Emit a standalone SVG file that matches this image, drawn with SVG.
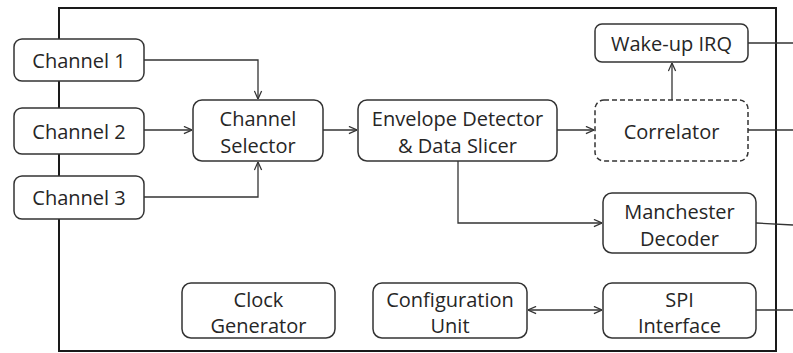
<svg xmlns="http://www.w3.org/2000/svg" width="793" height="353" viewBox="0 0 793 353">
  <style>
    .box { fill: #ffffff; stroke: #333333; stroke-width: 1.5; }
    .dash { stroke-dasharray: 5 3; }
    .frame { fill: none; stroke: #1a1a1a; stroke-width: 2; }
    .wire { fill: none; stroke: #333333; stroke-width: 1.3; }
    text { font-family: "Open Sans", "Liberation Sans", sans-serif; font-size: 20px; fill: #262626; text-anchor: middle; }
  </style>
  <defs>
    <marker id="arr" viewBox="0 0 10 10" refX="10" refY="5" markerWidth="9" markerHeight="9" markerUnits="userSpaceOnUse" orient="auto-start-reverse">
      <path d="M1,1 L10,5 L1,9" fill="none" stroke="#333333" stroke-width="1.4"/>
    </marker>
  </defs>

  <!-- chip outline; its left edge doubles as the channel bus -->
  <rect class="frame" x="59" y="8" width="717" height="343"/>

  <g id="connectors">
    <path class="wire" d="M144,60 H258 V99" marker-end="url(#arr)"/>
    <path class="wire" d="M144,130 H192" marker-end="url(#arr)"/>
    <path class="wire" d="M144,197 H258 V162" marker-end="url(#arr)"/>
    <path class="wire" d="M323,130 H357" marker-end="url(#arr)"/>
    <path class="wire" d="M557,130 H594" marker-end="url(#arr)"/>
    <path class="wire" d="M672,100 V63" marker-end="url(#arr)"/>
    <path class="wire" d="M458,161 V223 H602" marker-end="url(#arr)"/>
    <path class="wire" d="M528,310 H602" marker-start="url(#arr)" marker-end="url(#arr)"/>
    <path class="wire" d="M748,43 H793"/>
    <path class="wire" d="M748,130 H793"/>
    <path class="wire" d="M756,223 L793,225"/>
    <path class="wire" d="M756,310 H793"/>
  </g>

  <g id="ch1">
    <rect class="box" x="14" y="39" width="130" height="42" rx="8"/>
    <text x="79" y="67.5">Channel 1</text>
  </g>
  <g id="ch2">
    <rect class="box" x="14" y="108" width="130" height="46" rx="8"/>
    <text x="79" y="138.5">Channel 2</text>
  </g>
  <g id="ch3">
    <rect class="box" x="14" y="176" width="130" height="43" rx="8"/>
    <text x="79" y="204.5">Channel 3</text>
  </g>
  <g id="selector">
    <rect class="box" x="193" y="100" width="130" height="61" rx="9"/>
    <text x="258" y="125.5">Channel</text>
    <text x="258" y="152.5">Selector</text>
  </g>
  <g id="envelope">
    <rect class="box" x="358" y="100" width="199" height="61" rx="9"/>
    <text x="457.5" y="125.5">Envelope Detector</text>
    <text x="457.5" y="152.5">&amp; Data Slicer</text>
  </g>
  <g id="correlator">
    <rect class="box dash" x="595" y="100" width="153" height="61" rx="9"/>
    <text x="671.5" y="138.5">Correlator</text>
  </g>
  <g id="wakeup">
    <rect class="box" x="595" y="24" width="153" height="38" rx="7"/>
    <text x="671.5" y="50.5">Wake-up IRQ</text>
  </g>
  <g id="manchester">
    <rect class="box" x="603" y="193" width="153" height="60" rx="9"/>
    <text x="679.5" y="218.5">Manchester</text>
    <text x="679.5" y="245.5">Decoder</text>
  </g>
  <g id="spi">
    <rect class="box" x="603" y="283" width="153" height="55" rx="9"/>
    <text x="679.5" y="307">SPI</text>
    <text x="679.5" y="333">Interface</text>
  </g>
  <g id="config">
    <rect class="box" x="373" y="283" width="154" height="55" rx="9"/>
    <text x="450" y="307">Configuration</text>
    <text x="450" y="333">Unit</text>
  </g>
  <g id="clock">
    <rect class="box" x="182" y="283" width="153" height="55" rx="9"/>
    <text x="258.5" y="307">Clock</text>
    <text x="258.5" y="333">Generator</text>
  </g>
</svg>
